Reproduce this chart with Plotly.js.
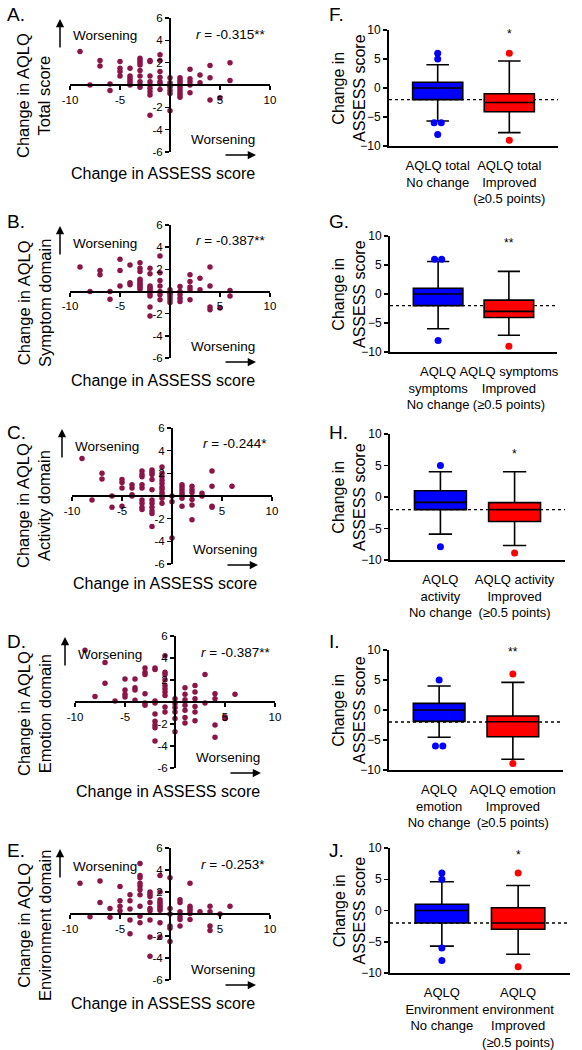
<!DOCTYPE html>
<html>
<head>
<meta charset="utf-8">
<script src="https://cdn.plot.ly/plotly-3.0.1.min.js"></script>
<style>html,body{margin:0;padding:0;background:#fff;}#chart{width:582px;height:1050px;}</style>
</head>
<body>
<div id="chart"></div>
<script>
// ---------------- DATA ----------------
// Scatter panels: x = change in ASSESS score (integer columns), y values per column
const totalCols = [-9,-8,-7,-6,-5,-4,-3,-2,-1,0,1,2,3,4,5,6];
const totalVals = [[3.0],[0],[2.2,1.7],[0.1,-0.5],[2.1,1.5,1.2,0.8],[1.5,0.8,0.6,0.4,0.2,0],
  [2.4,2.2,2.0,1.8,1.3,0.8,0.3,0,-0.2],[2.2,2.1,0.8,0.3,0,-0.3,-0.6,-0.9,-2.7],
  [2.7,2.2,1.2,0.7,0.3,0.1,-0.4],[0.65,0.2,0,-0.2,-0.5,-0.75,-2.3],
  [0.65,0.45,0.25,0,-0.2,-0.45,-0.7,-0.9,-1.1],[1.4,0.55,0.3,0,-0.7],[0.9,0.2],
  [1.75,0.65,-1.35],[-1.15],[2.0,0.4]];

const symptomCols = [-9,-8,-7,-6,-5,-4,-3,-2,-1,0,1,2,3,4,5,6];
const symptomVals = [[2.2],[0],[1.9,1.5],[0,-0.7],[2.9,1.9,0.5],[2.4,0.8,0.6],
  [2.6,2.1,1.8,1.1,1.0,0.8,0.65,0.5,0.35,0.2],[2.1,1.6,0.5,0.35,0.2,0.05,-0.2,-0.4,-1.4,-2.2],
  [3.2,1.7,1.0,0.5,0,-0.3,-0.75],[0.15,-0.15,-0.3,-0.5,-0.75,-1.0],[0.45,0,-0.3,-0.6,-0.9],
  [1.5,0.9,0.4,0.15,-0.75],[1.2,0.15],[2.2,0.5,-1.4,-1.65],[-1.5],[0.1,-0.4]];

const activityCols = [-9,-8,-7,-6,-5,-4,-3,-2,-1,0,1,2,3,4,6];
const activityVals = [[3.3],[-0.35],[2.0,1.5],[0,-1.0],[1.45,1.2,0.7,-0.9],[1.0,0.7,0.1,0],
  [2.2,1.9,1.7,1.0,0.7,-0.35,-0.65,-1.0,-1.2],[2.3,2.1,1.9,1.45,0.55,-0.35,-0.65,-1.0,-1.3,-1.55,-2.7],
  [2.55,2.0,1.7,1.4,1.1,0.8,0.6,0.3,0.1,-0.2,-0.65],[0,-0.5,-3.7],[1.0,0.8,0.55,0.3,0.1,-0.2,-0.9],
  [0.85,0.55,0.3,-0.3,-0.8,-2.1],[0.25,0],[2.2,0.85,-0.9,-1.0],[0.85]];

const emotionCols = [-9,-8,-7,-6,-5,-4,-3,-2,-1,0,1,2,3,4,5,6];
const emotionVals = [[4.7],[0.5],[3.6,1.7],[0.1],[2.1,1.1,0.7,0.45],[2.1,1.3,1.1,0.15],
  [3.1,2.7,2.5,0.75,-0.1,-0.3],[3.1,2.95,0.1,-0.1,-1.1,-1.75,-2.1,-2.35,-3.55],
  [4.2,2.7,2.5,2.0,1.5,1.2,0.9,0.6,-0.45,-0.9],[0.3,-0.15,-0.5,-0.9,-1.5,-2.7],
  [1.3,0.7,0.2,-0.3,-0.75,-1.4,-1.9],[1.5,0.9,0.3,-0.4,-0.9,-1.7],[2.5,-0.1],
  [0.75,0.3,-2.1,-3.2],[-1.5,-1.35],[0.7]];

const environmentCols = [-9,-8,-7,-6,-5,-4,-3,-2,-1,0,1,2,3,4,5,6];
const environmentVals = [[2.8],[-0.25],[3.0,1.05],[0.5,-0.3],[2.5,1.2,0.7,0.3],[1.75,1.2,0.45,-0.55,-1.8],
  [4.6,3.5,3.3,2.8,2.55,2.2,1.75,0.7,-0.2,-0.8],[2.0,1.8,1.6,1.05,0.5,0.3,-0.55,-2.1,-3.85],
  [3.5,2.0,1.3,1.1,0.9,0.7,0.5,0.35,-0.8,-2.1],[3.3,0.5,0,-1.1,-1.3,-2.5],
  [1.3,1.05,0.2,-0.25,-0.5,-1.1],[2.8,0.7,0.5,0.3,0.05,-0.5],[0.2],[0.7,0.2,-1.1,-1.5],[0],[0.7]];

const scatterLetters = ['A.','B.','C.','D.','E.'];
const scatterYTitles = ['Change in AQLQ<br>Total score','Change in AQLQ<br>Symptom domain',
  'Change in AQLQ<br>Activity domain','Change in AQLQ<br>Emotion domain','Change in AQLQ<br>Environment domain'];
const rTexts = ['-0.315**','-0.387**','-0.244*','-0.387**','-0.253*'];
const scXTickVals = [-10,-5,5,10];
const scXTickText = ['-10','-5','5','10'];
const scYTickVals = [-6,-4,-2,2,4,6];
const scYTickText = ['-6','-4','-2','2','4','6'];

// Box panels
const boxLetters = ['F.','G.','H.','I.','J.'];
const noChangeLabels = ['AQLQ total<br>No change','AQLQ<br>symptoms<br>No change','AQLQ<br>activity<br>No change',
  'AQLQ<br>emotion<br>No change','AQLQ<br>Environment<br>No change'];
const improvedLabels = ['AQLQ total<br>Improved<br>(≥0.5 points)','AQLQ symptoms<br>Improved<br>(≥0.5 points)',
  'AQLQ activity<br>Improved<br>(≥0.5 points)','AQLQ emotion<br>Improved<br>(≥0.5 points)',
  'AQLQ<br>environment<br>Improved<br>(≥0.5 points)'];
const noChangeQ1  = [-2,-2,-2,-1.9,-2];
const noChangeMed = [0,0,-0.85,0,0];
const noChangeQ3  = [1,1,1,1.1,1];
const noChangeLo  = [-5.7,-6,-5.9,-4.55,-5.7];
const noChangeHi  = [4,5.6,4,4,4.6];
const noChangeOut = [[6,5,-6,-6,-8],[6,6,-8],[5,-7.9],[5,-6,-6],[6,5,-6,-8]];
const improvedQ1  = [-4.1,-4.05,-3.9,-4.45,-3];
const improvedMed = [-2.5,-3,-2,-1.95,-2];
const improvedQ3  = [-1,-1.05,-0.9,-1,0.45];
const improvedLo  = [-7.7,-7.1,-7.7,-8.2,-7];
const improvedHi  = [4.65,3.9,4,4.6,4];
const improvedOut = [[6,-9],[-9],[-8.9],[6,-8.9],[6,-9]];
const sigText = ['*','**','*','**','*'];
const sigY = [9.3,8.8,6.9,9.6,8.9];
const boxYTickVals = [-10,-5,0,5,10];
const referenceLine = -2;

// ---------------- LAYOUT GEOMETRY ----------------
const W = 582, H = 1050;
const px = x => x / W, py = y => 1 - y / H;
const FONT = 'Liberation Sans, Arial, sans-serif';
const rowLabelY = [15, 222, 432, 641, 850];
const scTop = [18, 225, 428, 636, 848];
const scBot = [152, 358, 564, 768, 980];
const scLeft = [70, 70, 72, 75, 70];
const scWidth = 200;
const bxTop = [30, 236, 434, 650, 848];
const bxBot = [146, 352, 560, 770, 973];
const bxLeft = [389, 390, 390, 389, 390];
const bxRight = [558, 557, 565, 563, 570];

const scatterSets = [[totalCols,totalVals],[symptomCols,symptomVals],[activityCols,activityVals],
  [emotionCols,emotionVals],[environmentCols,environmentVals]];

const data = [];
const layout = {
  width: W, height: H, margin: {l:0,r:0,t:0,b:0}, showlegend: false,
  paper_bgcolor: '#fff', plot_bgcolor: 'rgba(0,0,0,0)',
  font: {family: FONT, color: '#000'},
  annotations: [], shapes: []
};
const ann = layout.annotations;

function flatten(cols, vals) {
  const xs = [], ys = [];
  cols.forEach((c, i) => vals[i].forEach(v => { xs.push(c); ys.push(v); }));
  return [xs, ys];
}

for (let i = 0; i < 5; i++) {
  const n = i + 1, sx = n === 1 ? '' : n;
  const [xs, ys] = flatten(scatterSets[i][0], scatterSets[i][1]);
  data.push({type:'scatter', mode:'markers', x: xs, y: ys, xaxis:'x'+sx, yaxis:'y'+sx,
    marker:{size:5.5, color:'#8a1548'}, cliponaxis:false, hoverinfo:'skip'});
  const L = scLeft[i], T = scTop[i], B = scBot[i];
  const zeroX = L + scWidth / 2, zeroY = (T + B) / 2;
  layout['xaxis'+sx] = {domain:[px(L), px(L+scWidth)], range:[-10,10], anchor:'free', position: py(zeroY),
    showline:true, linecolor:'#000', linewidth:2, ticks:'outside', ticklen:4, tickwidth:1.5, tickcolor:'#000',
    tickvals: scXTickVals, ticktext: scXTickText, tickfont:{size:11.5}, tickangle:0, showgrid:false, zeroline:false, fixedrange:true};
  layout['yaxis'+sx] = {domain:[py(B), py(T)], range:[-6,6], anchor:'free', position: px(zeroX),
    showline:true, linecolor:'#000', linewidth:2, ticks:'outside', ticklen:4, tickwidth:1.5, tickcolor:'#000',
    tickvals: scYTickVals, ticktext: scYTickText, tickfont:{size:11.5}, showgrid:false, zeroline:false, fixedrange:true};

  ann.push({xref:'paper', yref:'paper', x:px(5), y:py(rowLabelY[i]), xanchor:'left', yanchor:'middle',
    text: scatterLetters[i], showarrow:false, font:{size:19}});
  ann.push({xref:'paper', yref:'paper', x:px(34), y:py(T+78), xanchor:'center', yanchor:'middle',
    text: scatterYTitles[i], textangle:-90, showarrow:false, font:{size:16.5}});
  ann.push({xref:'paper', yref:'paper', x:px(L+93), y:py(T+155), xanchor:'center', yanchor:'middle',
    text: 'Change in ASSESS score', showarrow:false, font:{size:16}});
  ann.push({xref:'paper', yref:'paper', x:px(L+1), y:py(T+18), xanchor:'left', yanchor:'middle',
    text: 'Worsening', showarrow:false, font:{size:13.5}});
  ann.push({xref:'paper', yref:'paper', x:px(L+153), y:py(T+121), xanchor:'center', yanchor:'middle',
    text: 'Worsening', showarrow:false, font:{size:13.5}});
  ann.push({xref:'paper', yref:'paper', x:px(L+197), y:py(T+16), xanchor:'right', yanchor:'middle',
    text: '<i>r</i> = ' + rTexts[i], showarrow:false, font:{size:13.5}});
  // arrows
  ann.push({xref:'paper', yref:'paper', x:px(L-10), y:py(T+1), text:'', showarrow:true,
    ax:0, ay:30, axref:'pixel', ayref:'pixel', arrowhead:2, arrowsize:1.1, arrowwidth:1.5, arrowcolor:'#000'});
  ann.push({xref:'paper', yref:'paper', x:px(L+186), y:py(T+137), text:'', showarrow:true,
    ax:-32, ay:0, axref:'pixel', ayref:'pixel', arrowhead:2, arrowsize:1.1, arrowwidth:1.5, arrowcolor:'#000'});
}

for (let i = 0; i < 5; i++) {
  const n = i + 6, sx = String(n);
  const T = bxTop[i], B = bxBot[i], L = bxLeft[i], R = bxRight[i];
  layout['xaxis'+sx] = {domain:[px(L), px(R)], range:[-0.68,1.68], anchor:'y'+sx,
    showline:true, linecolor:'#000', linewidth:2, ticks:'', tickvals:[0,1], tickangle:0, ticklabelstandoff:6,
    ticktext:[noChangeLabels[i], improvedLabels[i]], tickfont:{size:13}, showgrid:false, zeroline:false, fixedrange:true};
  layout['yaxis'+sx] = {domain:[py(B), py(T)], range:[-10,10], anchor:'x'+sx,
    showline:true, linecolor:'#000', linewidth:2, ticks:'outside', ticklen:4, tickwidth:1.5, tickcolor:'#000',
    tickvals: boxYTickVals, tickfont:{size:12}, showgrid:false, zeroline:false, fixedrange:true};

  layout.shapes.push({type:'line', xref:'x'+sx+' domain', yref:'y'+sx, x0:0, x1:1, y0:referenceLine, y1:referenceLine,
    line:{color:'#000', width:1.3, dash:'dot'}, layer:'below'});

  const groups = [
    {pos:0, q1:noChangeQ1[i], med:noChangeMed[i], q3:noChangeQ3[i], lo:noChangeLo[i], hi:noChangeHi[i], out:noChangeOut[i], color:'#0000ff'},
    {pos:1, q1:improvedQ1[i], med:improvedMed[i], q3:improvedQ3[i], lo:improvedLo[i], hi:improvedHi[i], out:improvedOut[i], color:'#ff0000'}
  ];
  groups.forEach(g => {
    data.push({type:'box', x:[g.pos], q1:[g.q1], median:[g.med], q3:[g.q3], lowerfence:[g.lo], upperfence:[g.hi],
      xaxis:'x'+sx, yaxis:'y'+sx, fillcolor:g.color, line:{color:'#000', width:1.6},
      whiskerwidth:0.45, width:0.7, boxpoints:false, hoverinfo:'skip'});
    // dodge duplicate outliers side by side
    const ox = [], seen = {};
    g.out.forEach(v => {
      const cnt = g.out.filter(w => w === v).length;
      seen[v] = (seen[v] || 0) + 1;
      ox.push(cnt > 1 ? g.pos + (seen[v] - (cnt + 1) / 2) * 0.1 : g.pos);
    });
    data.push({type:'scatter', mode:'markers', x:ox, y:g.out, xaxis:'x'+sx, yaxis:'y'+sx,
      marker:{size:7, color:g.color}, cliponaxis:false, hoverinfo:'skip'});
  });

  ann.push({xref:'x'+sx, yref:'y'+sx, x:1, y:sigY[i], text:sigText[i], showarrow:false, font:{size:12}});
  ann.push({xref:'paper', yref:'paper', x:px(327), y:py(rowLabelY[i]), xanchor:'left', yanchor:'middle',
    text: boxLetters[i], showarrow:false, font:{size:19}});
  ann.push({xref:'paper', yref:'paper', x:px(349), y:py((T+B)/2), xanchor:'center', yanchor:'middle',
    text: 'Change in<br>ASSESS score', textangle:-90, showarrow:false, font:{size:16}});
}

Plotly.newPlot('chart', data, layout, {staticPlot:true, displayModeBar:false});
</script>
</body>
</html>
